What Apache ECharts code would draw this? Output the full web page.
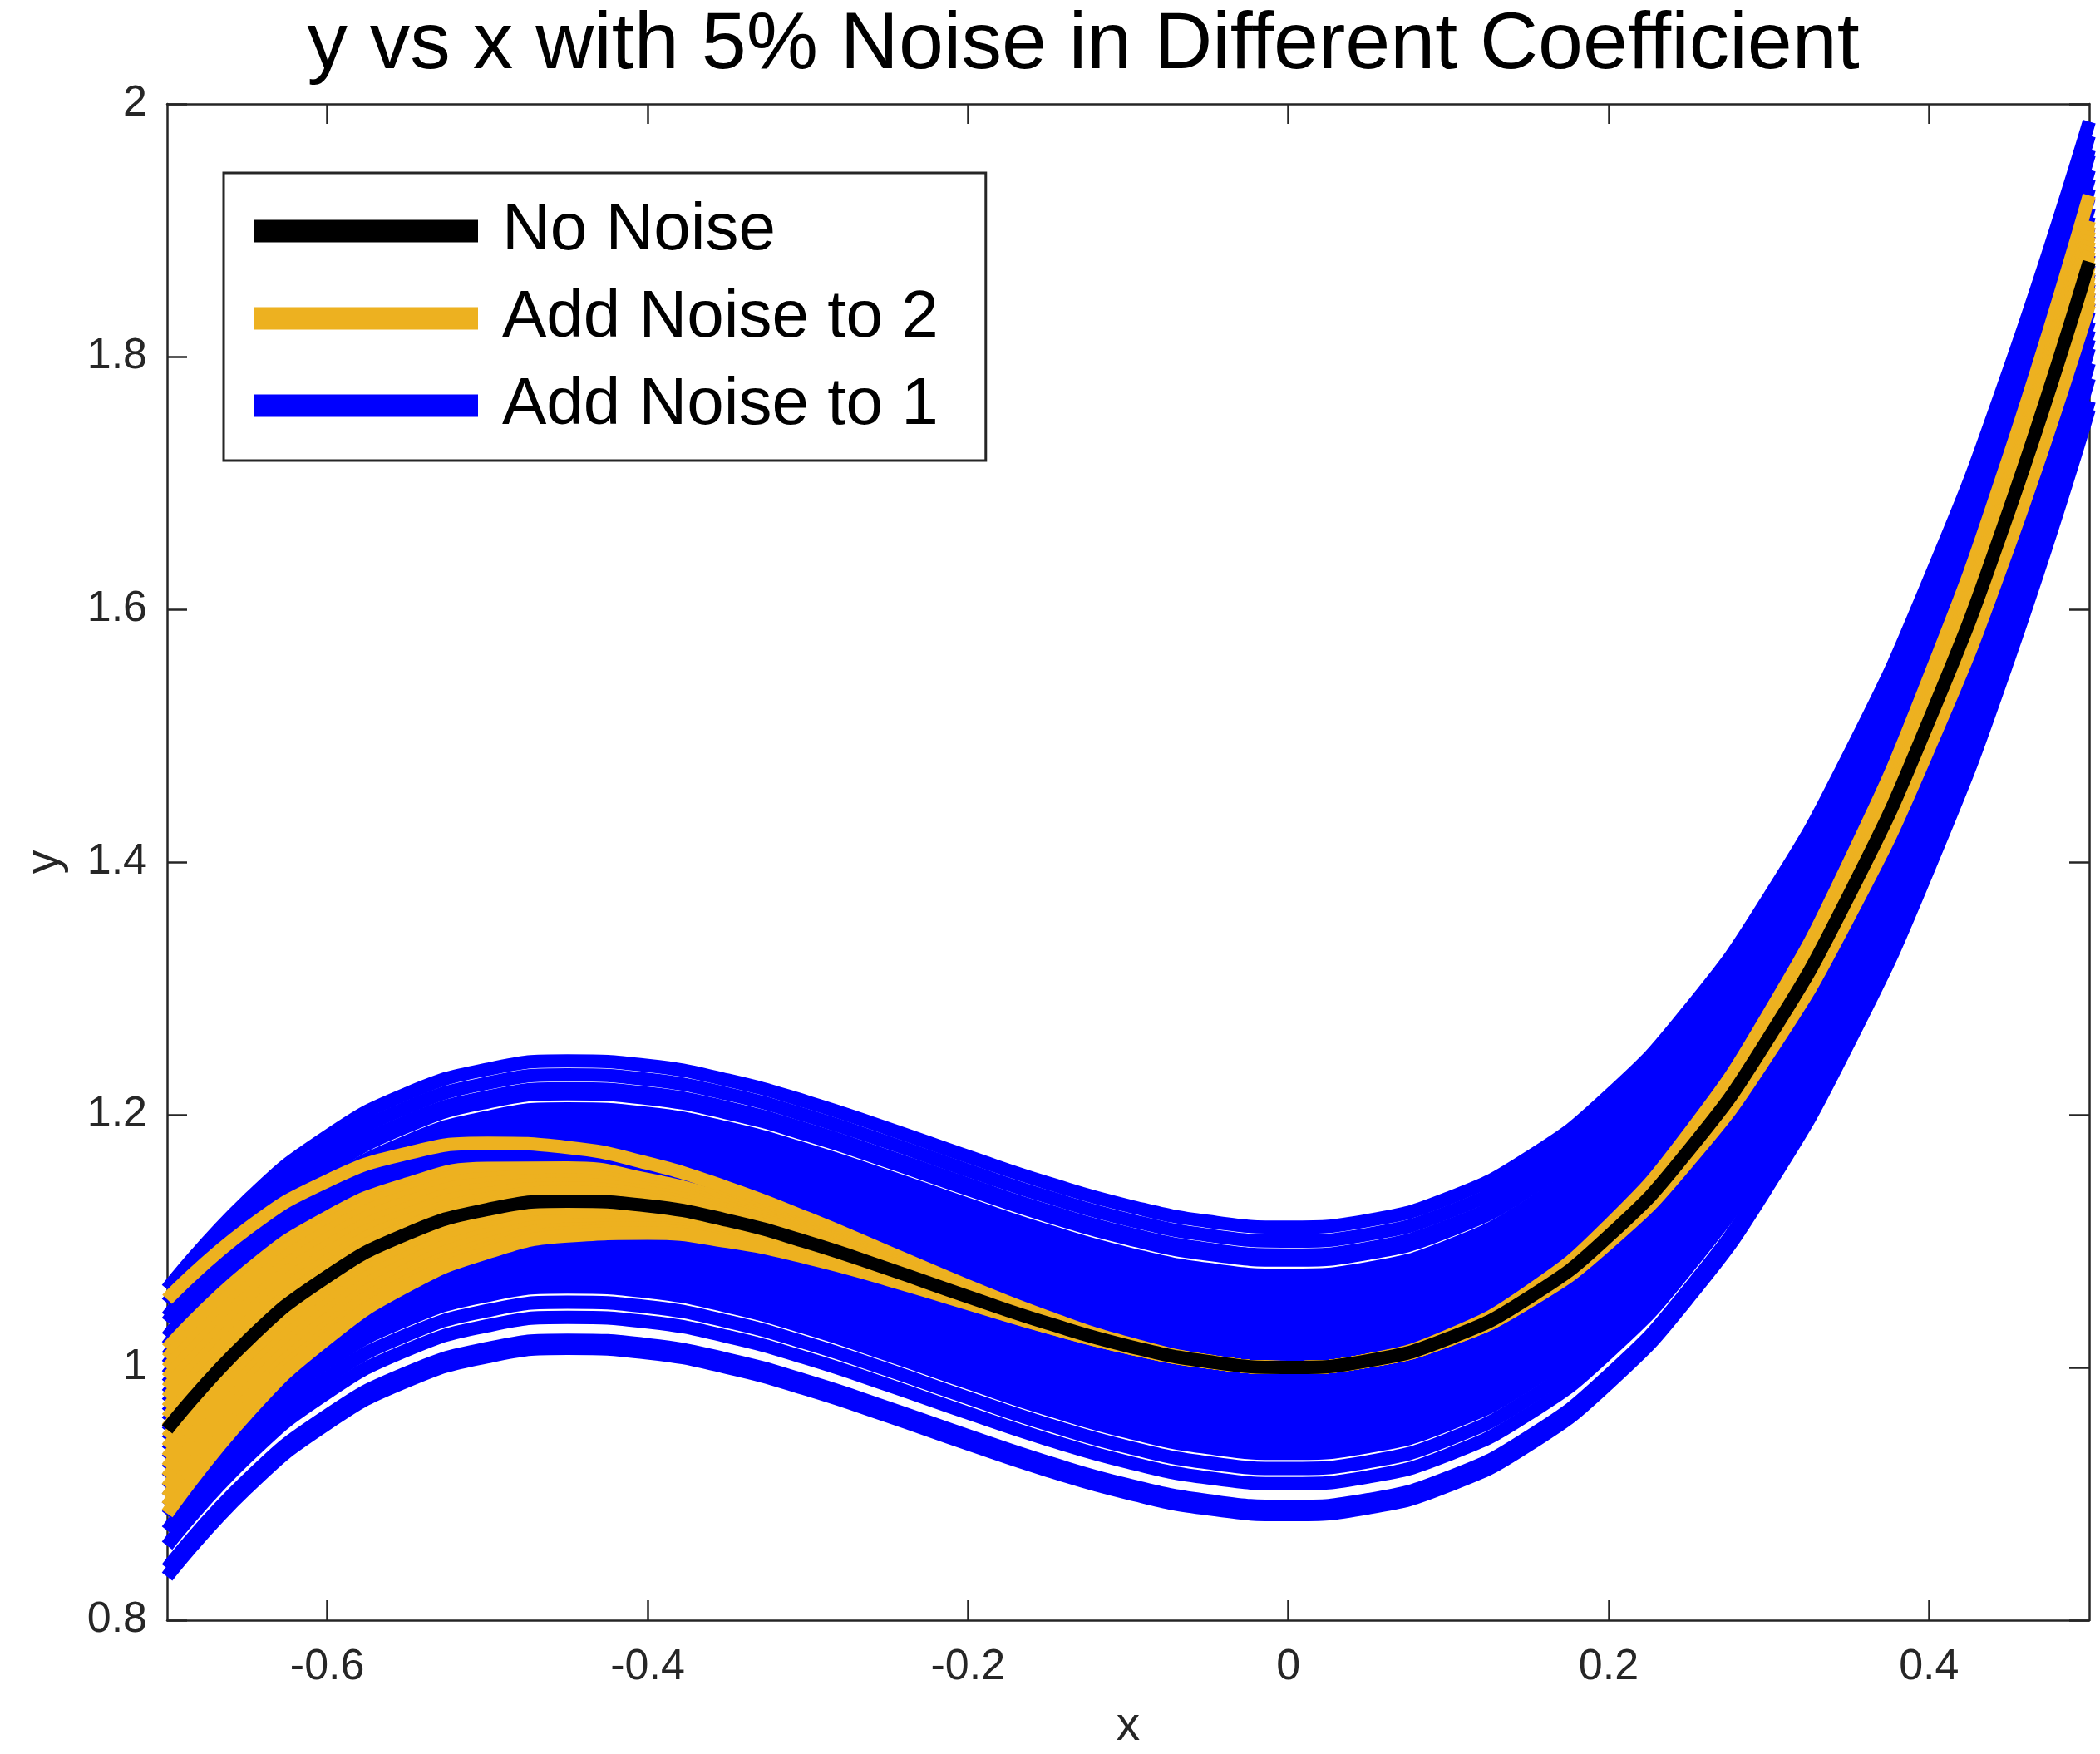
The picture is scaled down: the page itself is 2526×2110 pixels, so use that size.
<!DOCTYPE html>
<html>
<head>
<meta charset="utf-8">
<title>y vs x with 5% Noise in Different Coefficient</title>
<script type="text/javascript" src="https://cdn.jsdelivr.net/npm/echarts@6.0.0/dist/echarts.min.js"></script>
<style>
  html, body { margin: 0; padding: 0; background: #fff; }
  #main { width: 2526px; height: 2110px; }
</style>
</head>
<body>
<div id="main"></div>
<script type="text/javascript">
var FONT = '"Liberation Sans", Arial, Helvetica, sans-serif';
var AXIS_COLOR = '#262626';

// x positions of the samples
var xs = [-0.70, -0.65, -0.60, -0.55, -0.50, -0.45, -0.40, -0.35, -0.30, -0.25, -0.20, -0.15, -0.10,
          -0.05, 0.00, 0.05, 0.10, 0.15, 0.20, 0.25, 0.30, 0.35, 0.40, 0.45, 0.50];
// black curve (no noise)
var yNoNoise = [0.951, 1.0211, 1.072, 1.1059, 1.125, 1.1316, 1.128, 1.1164, 1.099, 1.0781, 1.056, 1.0349, 1.017,
                1.0046, 1.000, 1.0054, 1.023, 1.0551, 1.104, 1.1719, 1.261, 1.3736, 1.512, 1.6784, 1.875];
// size of the term that carries coefficient 2
var quadTerm = [0.98, 0.845, 0.72, 0.605, 0.5, 0.405, 0.32, 0.245, 0.18, 0.125, 0.08, 0.045, 0.02,
                0.005, 0, 0.005, 0.02, 0.045, 0.08, 0.125, 0.18, 0.245, 0.32, 0.405, 0.5];
// noise added to coefficient 1 (shift of each blue curve)
var noiseOn1 = [0.111, 0.100, 0.089, 0.085, 0.073, 0.066, 0.058, 0.051, 0.043, 0.036, 0.028, 0.021, 0.013, 0.006,
                -0.002, -0.009, -0.017, -0.024, -0.032, -0.039, -0.047, -0.054, -0.061, -0.068,
                -0.080, -0.092, -0.110, -0.1165];
// relative noise added to coefficient 2 (orange curves)
var noiseOn2 = [0.105, 0.065, 0.057, 0.049, 0.041, 0.033, 0.025, 0.017, 0.009, 0.001, -0.007, -0.015,
                -0.023, -0.031, -0.039, -0.047, -0.055, -0.062, -0.068];
var xTicks = [-0.6, -0.4, -0.2, 0, 0.2, 0.4];
var yTicks = [0.8, 1, 1.2, 1.4, 1.6, 1.8, 2];

function curve(shift) {
    var pts = [];
    for (var i = 0; i < xs.length; i++) {
        pts.push([xs[i], yNoNoise[i] + shift(i)]);
    }
    return pts;
}

function lineSeries(name, color, data) {
    return {
        name: name,
        type: 'line',
        data: data,
        symbol: 'none',
        smooth: 0.5,
        color: color,
        lineStyle: { width: 16, color: color },
        silent: true,
        animation: false
    };
}

var series = [];
// blue first, orange over it, black on top
noiseOn1.forEach(function (c) {
    series.push(lineSeries('Add Noise to 1', '#0000ff', curve(function () { return c; })));
});
noiseOn2.forEach(function (k) {
    series.push(lineSeries('Add Noise to 2', '#edb120', curve(function (i) { return k * quadTerm[i]; })));
});
series.push(lineSeries('No Noise', '#000000', curve(function () { return 0; })));

var myChart = echarts.init(document.getElementById('main'));

myChart.setOption({
    backgroundColor: '#ffffff',
    animation: false,
    title: {
        text: 'y vs x with 5% Noise in Different Coefficient',
        left: 1303,
        top: 7,
        padding: 0,
        textAlign: 'center',
        textStyle: { fontSize: 97, fontWeight: 'normal', color: '#000', fontFamily: FONT, lineHeight: 97 }
    },
    legend: {
        data: ['No Noise', 'Add Noise to 2', 'Add Noise to 1'],
        orient: 'vertical',
        left: 269,
        top: 208,
        padding: [30, 57, 26, 36],
        itemGap: 25,
        itemWidth: 270,
        itemHeight: 27,
        icon: 'rect',
        selectedMode: false,
        backgroundColor: '#fff',
        borderColor: AXIS_COLOR,
        borderWidth: 3,
        textStyle: { fontSize: 80, color: '#000', fontFamily: FONT, padding: [6, 0, 0, 24] }
    },
    grid: {
        left: 201,
        right: 13,
        top: 125,
        bottom: 161,
        containLabel: false,
        outerBoundsMode: 'none'
    },
    xAxis: [{
        type: 'value',
        min: -0.7,
        max: 0.5,
        position: 'bottom',
        name: 'x',
        nameLocation: 'middle',
        nameGap: 100,
        nameTextStyle: { fontSize: 57, color: AXIS_COLOR, fontFamily: FONT },
        axisLine: { show: true, onZero: false, lineStyle: { color: AXIS_COLOR, width: 2.5 } },
        axisTick: { show: true, inside: true, length: 24, customValues: xTicks, lineStyle: { color: AXIS_COLOR, width: 2.5 } },
        axisLabel: { customValues: xTicks, margin: 31, fontSize: 52, color: AXIS_COLOR, fontFamily: FONT },
        splitLine: { show: false }
    }, {
        type: 'value',
        min: -0.7,
        max: 0.5,
        position: 'top',
        axisLine: { show: true, onZero: false, lineStyle: { color: AXIS_COLOR, width: 2.5 } },
        axisTick: { show: true, inside: true, length: 24, customValues: xTicks, lineStyle: { color: AXIS_COLOR, width: 2.5 } },
        axisLabel: { show: false },
        splitLine: { show: false }
    }],
    yAxis: [{
        type: 'value',
        min: 0.8,
        max: 2,
        position: 'left',
        name: 'y',
        nameLocation: 'middle',
        nameGap: 118,
        nameRotate: 90,
        nameTextStyle: { fontSize: 57, color: AXIS_COLOR, fontFamily: FONT },
        axisLine: { show: true, onZero: false, lineStyle: { color: AXIS_COLOR, width: 2.5 } },
        axisTick: { show: true, inside: true, length: 24, customValues: yTicks, lineStyle: { color: AXIS_COLOR, width: 2.5 } },
        axisLabel: { customValues: yTicks, margin: 24, fontSize: 52, color: AXIS_COLOR, fontFamily: FONT },
        splitLine: { show: false }
    }, {
        type: 'value',
        min: 0.8,
        max: 2,
        position: 'right',
        axisLine: { show: true, onZero: false, lineStyle: { color: AXIS_COLOR, width: 2.5 } },
        axisTick: { show: true, inside: true, length: 24, customValues: yTicks, lineStyle: { color: AXIS_COLOR, width: 2.5 } },
        axisLabel: { show: false },
        splitLine: { show: false }
    }],
    series: series
});

window.onresize = function () {
    myChart.resize();
};
</script>
</body>
</html>
